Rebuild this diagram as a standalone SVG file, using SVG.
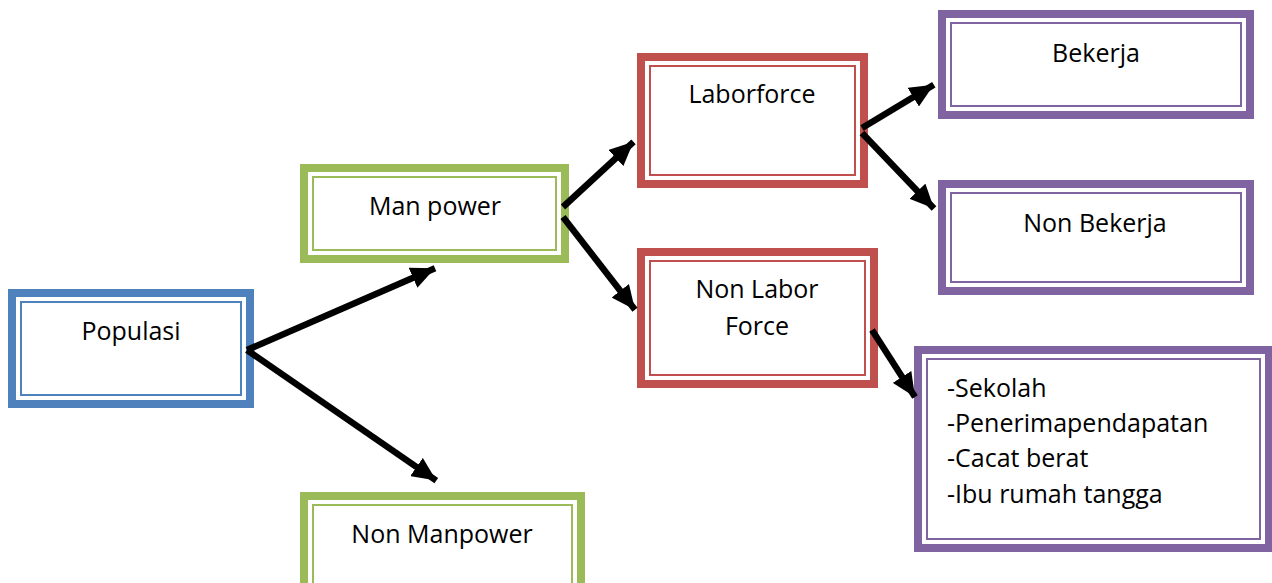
<svg xmlns="http://www.w3.org/2000/svg" width="1272" height="583" viewBox="0 0 1272 583">
<style>
.band{fill:#fff;stroke-width:8}
.thin{fill:none;stroke-width:2}
.blue{stroke:#4F81BD}
.green{stroke:#9BBB59}
.red{stroke:#C0504D}
.purple{stroke:#8064A2}
text{font-family:"Open Sans","Liberation Sans",sans-serif;font-size:25px;fill:#000}
.c{text-anchor:middle}
.conn line{stroke:#000;stroke-width:6.5;marker-end:url(#ah)}
</style>
<defs>
<marker id="ah" markerUnits="userSpaceOnUse" markerWidth="24" markerHeight="22" refX="24" refY="11" orient="auto" viewBox="0 0 24 22">
<path d="M0,0 L24,11 L0,22 z" fill="#000"/>
</marker>
</defs>
<rect width="1272" height="583" fill="#fff"/>
<g id="populasi">
<rect class="band blue" x="12" y="293" width="238" height="111"/>
<rect class="thin blue" x="21" y="302" width="220" height="93"/>
<text class="c" x="131" y="340">Populasi</text>
</g>
<g id="manpower">
<rect class="band green" x="304" y="168" width="261" height="91"/>
<rect class="thin green" x="313" y="177" width="243" height="73"/>
<text class="c" x="435" y="215">Man power</text>
</g>
<g id="nonmanpower">
<rect class="band green" x="304" y="496" width="277" height="110"/>
<rect class="thin green" x="313" y="505" width="259" height="92"/>
<text class="c" x="442" y="543">Non Manpower</text>
</g>
<g id="laborforce">
<rect class="band red" x="641" y="57" width="223" height="127"/>
<rect class="thin red" x="650" y="66" width="205" height="109"/>
<text class="c" x="752" y="103">Laborforce</text>
</g>
<g id="nonlaborforce">
<rect class="band red" x="641" y="252" width="233" height="132"/>
<rect class="thin red" x="650" y="261" width="215" height="114"/>
<text class="c" x="757" y="298">Non Labor</text>
<text class="c" x="757" y="335">Force</text>
</g>
<g id="bekerja">
<rect class="band purple" x="942" y="14" width="308" height="101"/>
<rect class="thin purple" x="951" y="23" width="290" height="83"/>
<text class="c" x="1096" y="62">Bekerja</text>
</g>
<g id="nonbekerja">
<rect class="band purple" x="942" y="184" width="308" height="107"/>
<rect class="thin purple" x="951" y="193" width="290" height="89"/>
<text class="c" x="1095" y="232">Non Bekerja</text>
</g>
<g id="list">
<rect class="band purple" x="918" y="350" width="351" height="198"/>
<rect class="thin purple" x="927" y="359" width="333" height="180"/>
<text x="947" y="397">-Sekolah</text>
<text x="947" y="432">-Penerimapendapatan</text>
<text x="947" y="467">-Cacat berat</text>
<text x="947" y="503">-Ibu rumah tangga</text>
</g>
<g id="connectors" class="conn">
<line x1="247" y1="350" x2="435" y2="268.2"/>
<line x1="247" y1="350" x2="436.3" y2="480.6"/>
<line x1="563" y1="207" x2="633.5" y2="141.8"/>
<line x1="563" y1="217" x2="635" y2="309.7"/>
<line x1="862" y1="128" x2="933.8" y2="84.7"/>
<line x1="862" y1="133" x2="934" y2="208.6"/>
<line x1="872" y1="330" x2="915" y2="397.1"/>
</g>
</svg>
